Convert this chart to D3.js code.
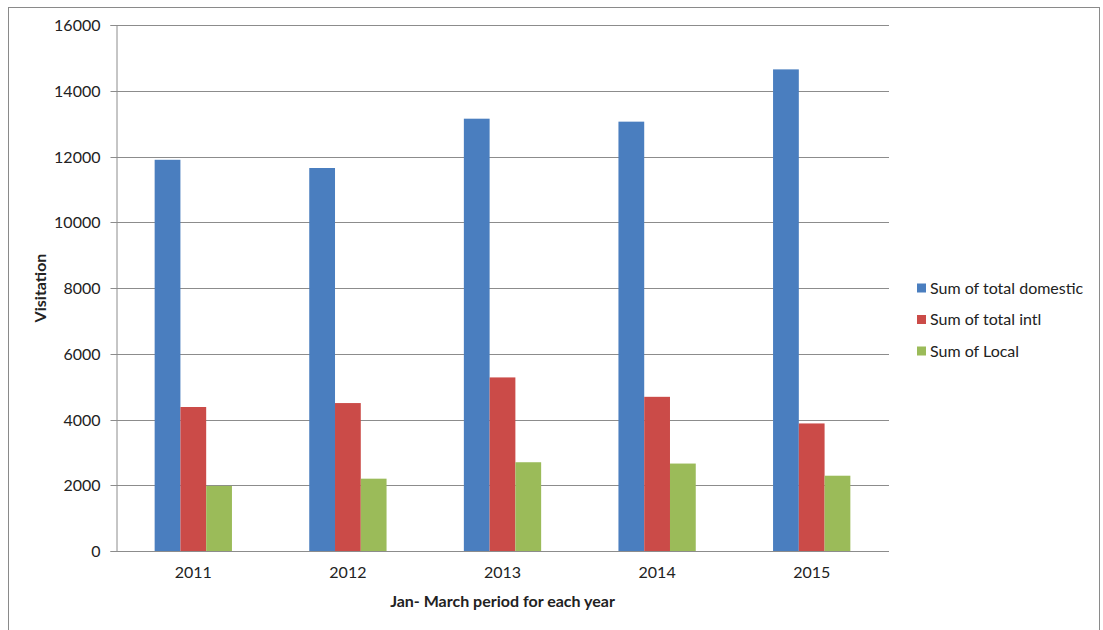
<!DOCTYPE html>
<html>
<head>
<meta charset="utf-8">
<script src="https://cdn.jsdelivr.net/npm/d3@7"></script>
<style>
  html, body { margin: 0; padding: 0; background: #fff; }
  svg { display: block; }
  text { font-family: Lato, "Open Sans", "Liberation Sans", sans-serif; fill: #222; }
</style>
</head>
<body>
<svg id="chart" width="1103" height="630"></svg>
<script>
// Jan–March visitation per year
const years = ["2011", "2012", "2013", "2014", "2015"];
const seriesNames = ["Sum of total domestic", "Sum of total intl", "Sum of Local"];
const domestic = [11900, 11650, 13150, 13060, 14650];
const intl = [4380, 4500, 5280, 4690, 3880];
const local = [1980, 2200, 2700, 2660, 2290];
const yTicks = [0, 2000, 4000, 6000, 8000, 10000, 12000, 14000, 16000];
const colors = ["#4a7ebf", "#cb4b48", "#9bbb59"];

const svg = d3.select("#chart");
const plot = { left: 116, right: 889, top: 25, bottom: 551 };
const fontSize = "16px";

// outer chart frame
svg.append("rect")
  .attr("x", 8.5).attr("y", 7.5)
  .attr("width", 1091).attr("height", 640)
  .attr("fill", "none").attr("stroke", "#8a8a8a").attr("stroke-width", 1);

const x = d3.scaleBand().domain(years).range([plot.left, plot.right])
  .paddingInner(0.5).paddingOuter(0.25);
const xs = d3.scaleBand().domain(d3.range(3)).range([0, x.bandwidth()]);
const y = d3.scaleLinear().domain([0, 16000]).range([plot.bottom, plot.top]);

// horizontal gridlines
svg.append("g")
  .selectAll("line").data(yTicks.filter(d => d > 0)).join("line")
  .attr("x1", plot.left).attr("x2", plot.right)
  .attr("y1", d => Math.round(y(d)) + 0.5).attr("y2", d => Math.round(y(d)) + 0.5)
  .attr("stroke", "#8c8c8c").attr("stroke-width", 1);

// y axis
const yAxis = svg.append("g")
  .attr("transform", `translate(${plot.left + 0.5},0)`)
  .call(d3.axisLeft(y).tickValues(yTicks).tickSize(6).tickPadding(10).tickFormat(d3.format("d")));
yAxis.select(".domain").attr("stroke", "#8c8c8c");
yAxis.selectAll(".tick line").attr("stroke", "#8c8c8c");
yAxis.selectAll(".tick text").style("font-size", fontSize).attr("fill", "#222");
yAxis.selectAll(".tick").attr("transform", d => `translate(0,${Math.round(y(d)) + 0.5})`);

// bars
const data = years.map((yr, i) => ({ year: yr, values: [domestic[i], intl[i], local[i]] }));
const groups = svg.append("g").selectAll("g").data(data).join("g")
  .attr("transform", d => `translate(${x(d.year)},0)`);
groups.selectAll("rect").data(d => d.values.map((v, k) => ({ v, k }))).join("rect")
  .attr("x", d => xs(d.k))
  .attr("y", d => y(d.v))
  .attr("width", xs.bandwidth())
  .attr("height", d => y(0) - y(d.v))
  .attr("fill", d => colors[d.k]);

// x axis baseline
svg.append("line")
  .attr("x1", plot.left).attr("x2", plot.right)
  .attr("y1", plot.bottom + 0.5).attr("y2", plot.bottom + 0.5)
  .attr("stroke", "#8c8c8c");

const xAxis = svg.append("g")
  .attr("transform", `translate(0,${plot.bottom})`)
  .call(d3.axisBottom(x).tickSize(0).tickPadding(16));
xAxis.select(".domain").remove();
xAxis.selectAll(".tick text").style("font-size", fontSize).attr("fill", "#222");

// axis titles
svg.append("text")
  .attr("x", (plot.left + plot.right) / 2).attr("y", 607)
  .attr("text-anchor", "middle")
  .style("font-size", fontSize).style("font-weight", "bold")
  .text("Jan- March period for each year");

svg.append("text")
  .attr("transform", `translate(46,${(plot.top + plot.bottom) / 2}) rotate(-90)`)
  .attr("text-anchor", "middle")
  .style("font-size", fontSize).style("font-weight", "bold")
  .text("Visitation");

// legend
const legend = svg.append("g").attr("transform", "translate(917,288)");
const rows = legend.selectAll("g").data(seriesNames).join("g")
  .attr("transform", (d, i) => `translate(0,${i * 31.5})`);
rows.append("rect")
  .attr("x", 0).attr("y", -4.5).attr("width", 9).attr("height", 9)
  .attr("fill", (d, i) => colors[i]);
rows.append("text")
  .attr("x", 13).attr("y", 0).attr("dy", "0.35em")
  .style("font-size", fontSize)
  .text(d => d);
</script>
</body>
</html>
